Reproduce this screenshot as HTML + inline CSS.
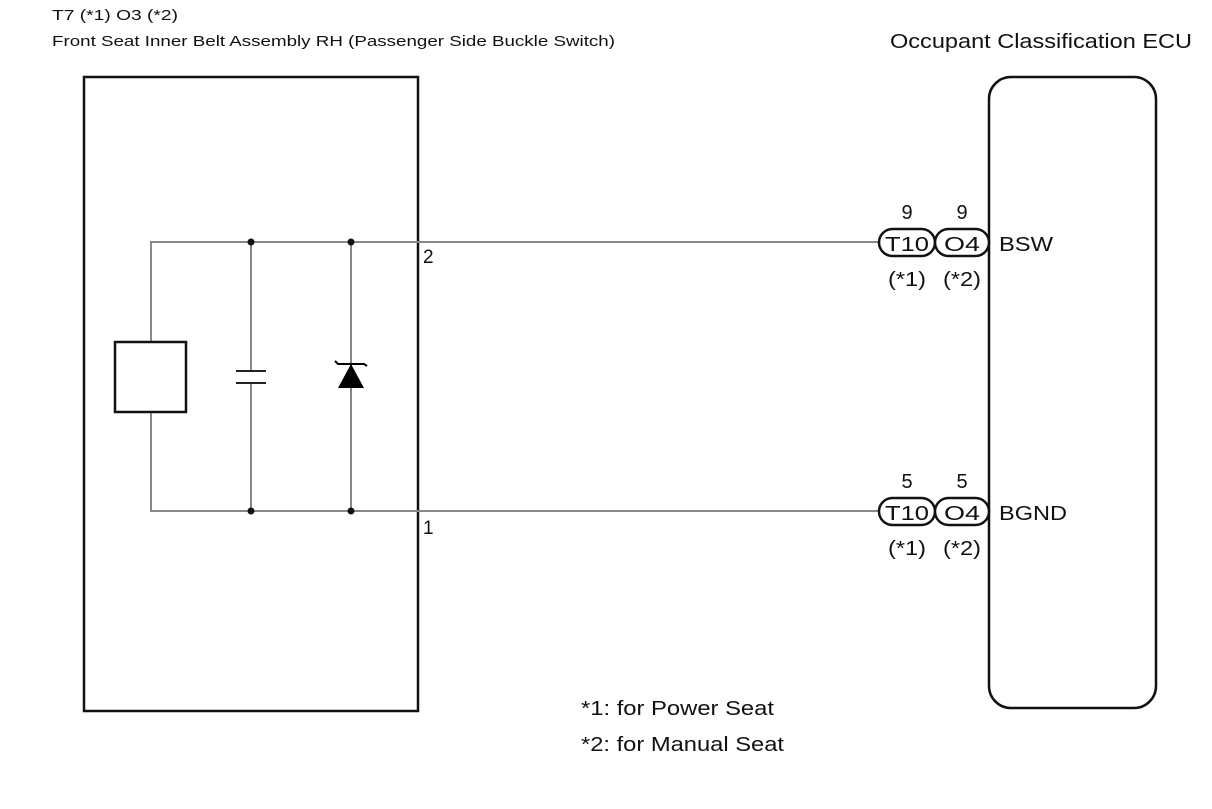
<!DOCTYPE html>
<html><head><style>
body{margin:0;background:#fff;}
svg text{font-family:"Liberation Sans",sans-serif;fill:#111;}
</style></head><body>
<svg width="1212" height="804" viewBox="0 0 1212 804">
<text x="52" y="20" font-size="15" textLength="126" lengthAdjust="spacingAndGlyphs">T7 (*1) O3 (*2)</text>
<text x="52" y="46" font-size="15" textLength="563" lengthAdjust="spacingAndGlyphs">Front Seat Inner Belt Assembly RH (Passenger Side Buckle Switch)</text>
<text x="890" y="48" font-size="20" textLength="302" lengthAdjust="spacingAndGlyphs">Occupant Classification ECU</text>
<rect x="84" y="77" width="334" height="634" fill="none" stroke="#111" stroke-width="2.5"/>
<rect x="989" y="77" width="167" height="631" rx="22" fill="none" stroke="#111" stroke-width="2.5"/>
<g stroke="#888" stroke-width="2" fill="none">
<path d="M879 242 H151 V341 M151 412 V511 H879"/>
<path d="M251 242 V371 M251 383 V511"/>
<path d="M351 242 V511"/>
</g>
<rect x="115" y="342" width="71" height="70" fill="#fff" stroke="#111" stroke-width="2.5"/>
<g stroke="#222" stroke-width="2"><line x1="236" y1="371" x2="266" y2="371"/><line x1="236" y1="383" x2="266" y2="383"/></g>
<polygon points="351,364 338,388 364,388" fill="#000"/>
<path d="M335 361 L338 364 H364 L367 366" fill="none" stroke="#000" stroke-width="2"/>
<g fill="#111"><circle cx="251" cy="242" r="3.5"/><circle cx="351" cy="242" r="3.5"/><circle cx="251" cy="511" r="3.5"/><circle cx="351" cy="511" r="3.5"/></g>
<text x="423" y="263" font-size="19">2</text>
<text x="423" y="534" font-size="19">1</text>
<g fill="#fff" stroke="#111" stroke-width="2.5">
<rect x="879" y="229" width="56" height="27" rx="13.5"/>
<rect x="935" y="229" width="54" height="27" rx="13.5"/>
<rect x="879" y="498" width="56" height="27" rx="13.5"/>
<rect x="935" y="498" width="54" height="27" rx="13.5"/>
</g>
<g font-size="20" text-anchor="middle">
<text x="907" y="219">9</text><text x="962" y="219">9</text>
<text x="907" y="251" textLength="44" lengthAdjust="spacingAndGlyphs">T10</text><text x="962" y="251" textLength="36" lengthAdjust="spacingAndGlyphs">O4</text>
<text x="907" y="286" textLength="38" lengthAdjust="spacingAndGlyphs">(*1)</text><text x="962" y="286" textLength="38" lengthAdjust="spacingAndGlyphs">(*2)</text>
<text x="907" y="488">5</text><text x="962" y="488">5</text>
<text x="907" y="520" textLength="44" lengthAdjust="spacingAndGlyphs">T10</text><text x="962" y="520" textLength="36" lengthAdjust="spacingAndGlyphs">O4</text>
<text x="907" y="555" textLength="38" lengthAdjust="spacingAndGlyphs">(*1)</text><text x="962" y="555" textLength="38" lengthAdjust="spacingAndGlyphs">(*2)</text>
</g>
<text x="999" y="251" font-size="20" textLength="54" lengthAdjust="spacingAndGlyphs">BSW</text>
<text x="999" y="520" font-size="20" textLength="68" lengthAdjust="spacingAndGlyphs">BGND</text>
<text x="581" y="715" font-size="20" textLength="193" lengthAdjust="spacingAndGlyphs">*1: for Power Seat</text>
<text x="581" y="751" font-size="20" textLength="203" lengthAdjust="spacingAndGlyphs">*2: for Manual Seat</text>
</svg>
</body></html>
